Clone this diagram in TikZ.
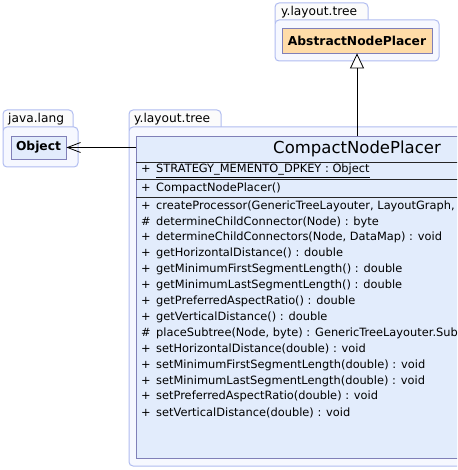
\documentclass[tikz,border=0pt]{standalone}
\usepackage{fontspec}
\setmainfont{DejaVu Sans}
\usetikzlibrary{arrows.meta}

\definecolor{pkgline}{RGB}{176,188,240}
\definecolor{pkgfill}{RGB}{246,248,255}
\definecolor{classline}{RGB}{128,128,184}
\definecolor{classfill}{RGB}{226,236,252}
\definecolor{abstractfill}{RGB}{255,220,168}

\tikzset{
    pkg/.style={draw=pkgline, fill=pkgfill, line width=1pt, rounded corners=4pt},
    pkgtab/.style={draw=pkgline, fill=white!97!gray, line width=1pt, rounded corners=4pt},
    pkglabel/.style={anchor=base west, inner sep=0pt, font=\fontsize{12.2}{14}\selectfont},
    classbox/.style={draw=classline, fill=classfill, line width=0.8pt, inner sep=0pt},
    member/.style={anchor=west, inner sep=0pt, font=\fontsize{11.4}{13}\selectfont},
    sep/.style={draw=black!85, line width=0.8pt},
}

\begin{document}
\begin{tikzpicture}[x=1pt, y=-1pt]
    \useasboundingbox (0,0) rectangle (457,470);
    \clip (0,0) rectangle (457,470);

    % packages
    \draw[pkgtab] (275,3) rectangle (368,26);
    \draw[pkg] (275,20) rectangle (439,61);
    \node[pkglabel] (tabtop) at (281,16) {y.layout.tree};

    \draw[pkgtab] (3,110) rectangle (73,133);
    \draw[pkg] (3,127) rectangle (78,167);
    \node[pkglabel] (tabjava) at (8,123) {java.lang};

    \draw[pkgtab] (129,110) rectangle (221,133);
    \draw[pkg] (129,127) rectangle (620,466);
    \node[pkglabel] (tabtree) at (134,123) {y.layout.tree};

    % classes
    \node[classbox, fill=abstractfill, minimum width=150pt, minimum height=25pt,
        font=\fontsize{12.3}{14}\selectfont\bfseries] (abstract) at (357,40.5) {AbstractNodePlacer};
    \node[classbox, minimum width=55pt, minimum height=23pt,
        font=\fontsize{12.3}{14}\selectfont\bfseries] (object) at (38.5,147.5) {Object};
    \node[classbox, minimum width=442pt, minimum height=322pt] (placer) at (357,297) {};
    \node[inner sep=0pt, font=\fontsize{16.5}{18}\selectfont] (placername) at (357,149) {CompactNodePlacer};

    \draw[sep] (136,162) -- (578,162);
    \draw[sep] (136,179) -- (578,179);
    \draw[sep] (136,197) -- (578,197);

    \node[member] (attr) at (141,171) {\makebox[15pt][l]{+}\underline{STRATEGY\_MEMENTO\_DPKEY : Object}};
    \node[member] (ctor) at (141,188) {\makebox[15pt][l]{+}CompactNodePlacer()};

    \foreach \vis/\txt [count=\i] in {
        +/{createProcessor(GenericTreeLayouter, LayoutGraph, Node) : Processor},
        \#/{determineChildConnector(Node) : byte},
        +/{determineChildConnectors(Node, DataMap) : void},
        +/{getHorizontalDistance() : double},
        +/{getMinimumFirstSegmentLength() : double},
        +/{getMinimumLastSegmentLength() : double},
        +/{getPreferredAspectRatio() : double},
        +/{getVerticalDistance() : double},
        \#/{placeSubtree(Node, byte) : GenericTreeLayouter.SubtreeShape},
        +/{setHorizontalDistance(double) : void},
        +/{setMinimumFirstSegmentLength(double) : void},
        +/{setMinimumLastSegmentLength(double) : void},
        +/{setPreferredAspectRatio(double) : void},
        +/{setVerticalDistance(double) : void}}
        \node[member] (meth\i) at (141,{206+15.9*(\i-1)}) {\makebox[15pt][l]{\vis}\txt};

    % relations
    \draw[line width=0.8pt, -{Triangle[length=15pt, width=14pt, fill=white]}] (placer.north) -- (abstract.south);
    \draw[line width=0.8pt, -{Straight Barb[length=13pt, width=10pt]}] (object -| placer.west) -- (object);
\end{tikzpicture}
\end{document}
